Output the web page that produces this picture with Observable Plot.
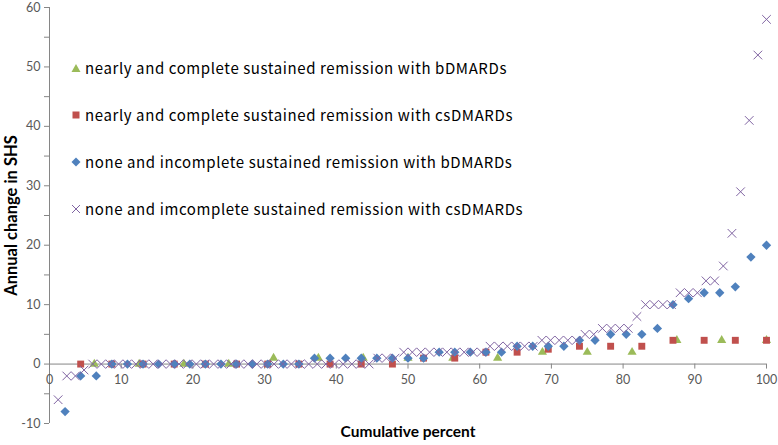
<!DOCTYPE html>
<html><head><meta charset="utf-8">
<script src="https://cdn.jsdelivr.net/npm/d3@7"></script>
<script src="https://cdn.jsdelivr.net/npm/@observablehq/plot@0.6"></script>
<style>
body{margin:0;background:#fff;}
#wrap{position:relative;width:778px;height:445px;}
.lg{position:absolute;left:71px;height:20px;line-height:20px;font-family:"Noto Sans CJK JP","Noto Sans",sans-serif;font-size:15px;letter-spacing:0.6px;color:#000;white-space:nowrap;display:flex;align-items:center;}
.lg svg{margin-right:4px;}
</style></head><body><div id="wrap"></div>
<script>
// Series names (legend order)
const seriesNames = [
  "nearly and complete sustained remission with bDMARDs",
  "nearly and complete sustained remission with csDMARDs",
  "none and incomplete sustained remission with bDMARDs",
  "none and imcomplete sustained remission with csDMARDs"
];
const seriesColors = ["#9BBB59", "#C0504D", "#4F81BD", "#8064A2"];
const seriesSymbols = ["triangle", "square", "diamond2", "times"];

// Annual change in SHS, sorted within each group (x = cumulative percent of the group)
const nearlyB = [0,0,0,0,1,1,1,1,1,1,2,2,2,4,4,4];
const nearlyCs = [0,0,0,0,0,0,0,0,0,0,0,1,1,2,2,2.5,3,3,3,4,4,4,4];
const noneB = [-8,-2,-2,0,0,0,0,0,0,0,0,0,0,0,0,0,1,1,1,1,1,1,1,1,2,2,2,2,2,3,3,3,3,4,4,5,5,5,6,10,11,12,12,13,18,20];
const noneCs = [-6,-2,-2,-1,
  0,0,0,0,0,0,0,0,0,0,0,0,0,0,0,0,0,0,0,0,0,0,0,0,0,0,0,0,0,0,0,0,0,
  1,1,1,2,2,2,2,2,2,2,2,2,2,3,3,3,3,3,3,4,4,4,4,4,5,5,6,6,6,6,8,10,10,10,10,12,12,12,14,14,16.5,22,29,41,52,58];

// Axis ticks
const xTicks = [0,10,20,30,40,50,60,70,80,90,100];
const yTicks = [-10,-5,0,5,10,15,20,25,30,35,40,45,50,55,60];
const yLabelStep = 10;

const cumulative = vals => vals.map((v, i) => ({x: (i + 1) / vals.length * 100, y: v}));
const groups = [nearlyB, nearlyCs, noneB, noneCs].map(cumulative);

const axisGray = "#868686";
const labelGray = "#595959";

const chart = Plot.plot({
  width: 778, height: 445,
  marginLeft: 49, marginRight: 12, marginTop: 7, marginBottom: 22,
  x: {domain: [0, 100], axis: null},
  y: {domain: [-10, 60]},
  style: {fontFamily: "Lato, 'Open Sans', sans-serif", fontSize: "12.5px", background: "white", color: labelGray},
  marks: [
    Plot.ruleX([0], {stroke: axisGray}),
    Plot.axisY(yTicks, {tickSize: 5, tickPadding: 4, stroke: axisGray, fill: labelGray, label: null,
      tickFormat: d => d % yLabelStep === 0 ? String(d) : ""}),
    Plot.ruleY([0], {stroke: axisGray}),
    Plot.ruleX(xTicks, {x: d => d, y1: d => 0, y2: d => 0, insetBottom: -5, stroke: axisGray}),
    Plot.text(xTicks, {x: d => d, y: d => 0, dy: 16, text: d => String(d), fill: labelGray}),
    Plot.text(["Annual change in SHS"], {frameAnchor: "left", textAnchor: "middle", dx: -38, rotate: -90, fontWeight: "bold", fontSize: 16.5, fill: "#000"}),
    Plot.text(["Cumulative percent"], {frameAnchor: "bottom", textAnchor: "middle", dy: 13, fontWeight: "bold", fontSize: 15.5, fill: "#000"}),
    Plot.dot(groups[0], {x: "x", y: "y", symbol: seriesSymbols[0], fill: seriesColors[0], r: 3.4}),
    Plot.dot(groups[1], {x: "x", y: "y", symbol: seriesSymbols[1], fill: seriesColors[1], r: 3.9}),
    Plot.dot(groups[2], {x: "x", y: "y", symbol: seriesSymbols[2], fill: seriesColors[2], r: 4.2}),
    Plot.dot(groups[3], {x: "x", y: "y", symbol: seriesSymbols[3], stroke: seriesColors[3], fill: "none", strokeWidth: 1, r: 4})
  ]
});
const wrap = document.getElementById("wrap");
wrap.appendChild(chart);

// Legend (inside plot area)
const legendRowsY = [68, 115, 162, 209];
const markerSvg = [
  c => `<svg width="10" height="10" viewBox="0 0 10 10"><path d="M5 1L9.5 9H0.5Z" fill="${c}"/></svg>`,
  c => `<svg width="10" height="10" viewBox="0 0 10 10"><rect x="1.5" y="1.5" width="7" height="7" fill="${c}"/></svg>`,
  c => `<svg width="10" height="10" viewBox="0 0 10 10"><path d="M5 0.5L9.5 5L5 9.5L0.5 5Z" fill="${c}"/></svg>`,
  c => `<svg width="10" height="10" viewBox="0 0 10 10"><path d="M1 1L9 9M9 1L1 9" stroke="${c}" stroke-width="1" fill="none"/></svg>`
];
seriesNames.forEach((name, i) => {
  const div = document.createElement("div");
  div.className = "lg";
  div.style.top = (legendRowsY[i] - 10) + "px";
  div.innerHTML = markerSvg[i](seriesColors[i]) + "<span></span>";
  div.querySelector("span").textContent = name;
  wrap.appendChild(div);
});
</script>
</body></html>
